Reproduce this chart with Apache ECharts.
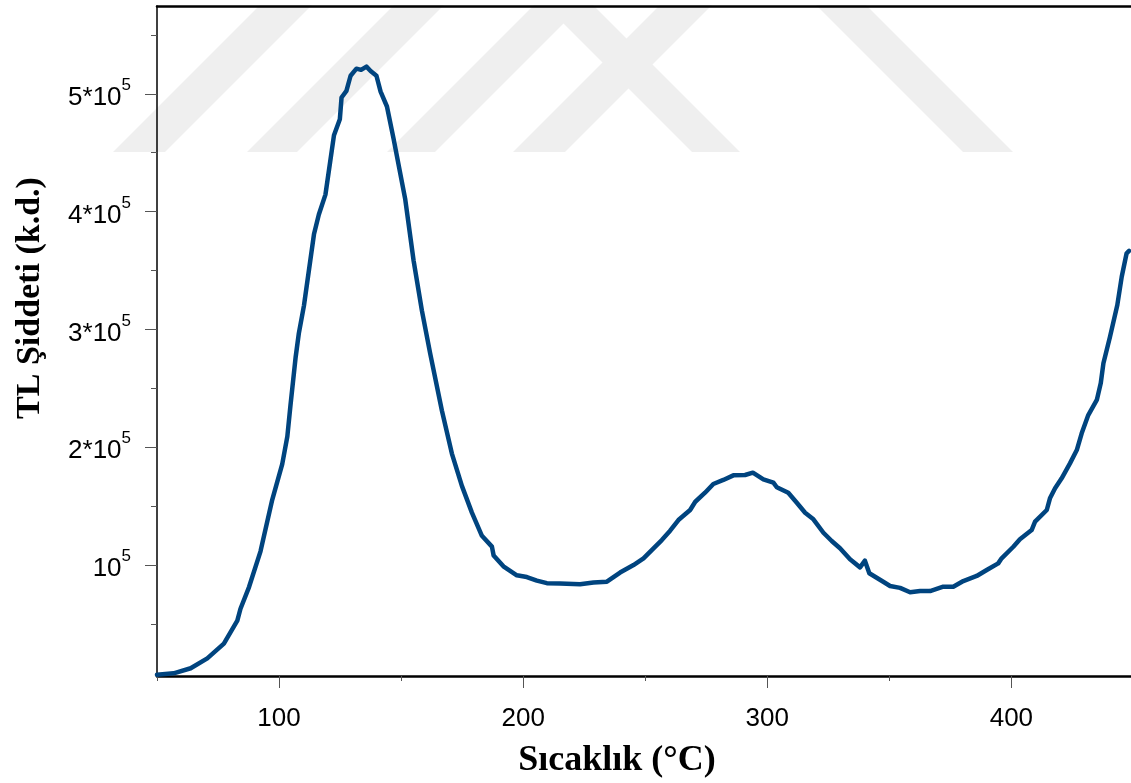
<!DOCTYPE html>
<html><head><meta charset="utf-8">
<script src="https://cdn.jsdelivr.net/npm/echarts@6/dist/echarts.min.js"></script>
<style>html,body{margin:0;padding:0;background:#fff}#c{width:1131px;height:783px}</style>
</head><body><div id="c"></div>
<script>
// ---- data ----
const temperature = [50,56.8,63.8,70.6,77.4,82.9,84.2,87.7,92.4,97.2,101.3,103.4,104.7,106.8,108.1,110.2,114.3,116.3,119.0,122.5,124.9,125.6,127.6,129.3,131.7,133.6,135.8,137.5,139.9,141.6,144.2,146.9,151.7,155.1,158.5,161.9,166.7,170.8,174.9,179.0,183.1,187.2,187.9,191.9,197.4,201.5,205.6,209.7,215.1,223.3,228.8,234.3,237.0,239.7,245.2,249.3,253.4,256.8,260.2,263.6,268.4,270.5,274.5,277.9,282.0,286.1,290.9,294.1,298.4,302.5,303.9,308.6,312.1,315.5,318.9,323.0,326.4,329.8,333.9,338.0,340.0,341.8,347.5,350.3,354.4,358.5,362.6,366.7,372.1,376.2,380.3,385.8,389.9,394.6,396.0,400.8,403.5,408.3,409.7,414.5,415.8,417.9,420.6,424.0,426.8,428.8,431.5,435.0,436.6,437.7,440.4,443.4,445.2,447.2,448.2];
const intensity = [6800,8060,12400,20800,33300,52800,62900,81300,111600,155300,185700,209200,236100,276500,296600,320200,380700,397500,414400,464800,478300,496800,502500,515300,521300,520300,523000,519300,515300,501800,489200,461900,410300,358600,316100,279600,231100,194600,167200,144500,124800,115600,108100,98900,91300,89800,86800,84600,84400,83700,85200,85900,89800,93600,100000,105700,114200,121200,129100,138200,146700,153700,161400,168800,172200,176100,176400,178400,172700,169900,166000,161400,152900,144400,138800,127400,120400,114200,104800,98000,103700,93000,85800,82200,80600,76900,77900,77900,81600,81600,86400,90700,95800,101400,105700,115500,121800,129700,136800,146700,156600,165100,173600,186300,197600,211800,227300,240100,254200,271200,293800,320700,344700,364600,366600];
const xLabelTicks = [100, 200, 300, 400];
const xMinorTicks = [50, 150, 250, 350];
const yLabelTicks = [100000, 200000, 300000, 400000, 500000];
const yMinorTicks = [50000, 150000, 250000, 350000, 450000, 550000];
const xTitle = 'Sıcaklık (°C)';
const yTitle = 'TL Şiddeti (k.d.)';

const points = temperature.map((t, i) => [t, intensity[i]]);
const X_MIN = 50, X_MAX = 449, Y_MIN = 5800, Y_MAX = 574500;
const tickColor = '#555';

function wm(bx0, bx1, dir) { // 45deg watermark band
  const h = 152;
  const s = dir * h;
  return [[bx0, 152], [bx1, 152], [bx1 + s, 0], [bx0 + s, 0]];
}
const wmStyle = {fill: '#efefef'};

const chart = echarts.init(document.getElementById('c'), null, {renderer: 'canvas'});
chart.setOption({
  animation: false,
  backgroundColor: '#fff',
  grid: {left: 157, right: 0, top: 6, bottom: 107, containLabel: false},
  xAxis: [
    {type: 'value', min: X_MIN, max: X_MAX, position: 'bottom',
     axisLine: {show: true, lineStyle: {color: '#000', width: 2.5}},
     axisTick: {show: true, customValues: xLabelTicks, length: 12, lineStyle: {color: tickColor, width: 1}},
     axisLabel: {show: true, customValues: xLabelTicks, margin: 30, fontSize: 26, fontFamily: 'Liberation Sans', color: '#000'},
     splitLine: {show: false}},
    {type: 'value', min: X_MIN, max: X_MAX, position: 'bottom',
     axisLine: {show: false},
     axisTick: {show: true, customValues: xMinorTicks, length: 5, lineStyle: {color: tickColor, width: 1}},
     axisLabel: {show: false}, splitLine: {show: false}},
    {type: 'value', min: X_MIN, max: X_MAX, position: 'top',
     axisLine: {show: true, lineStyle: {color: '#000', width: 2.5}},
     axisTick: {show: false}, axisLabel: {show: false}, splitLine: {show: false}}
  ],
  yAxis: [
    {type: 'value', min: Y_MIN, max: Y_MAX, position: 'left',
     axisLine: {show: true, lineStyle: {color: '#000', width: 1.5}},
     axisTick: {show: true, customValues: yLabelTicks, length: 12, lineStyle: {color: tickColor, width: 1}},
     axisLabel: {show: true, customValues: yLabelTicks, margin: 26,
       formatter: function (v) {
         const n = Math.round(v / 100000);
         return n === 1 ? '{b|10}{s|5}' : '{b|' + n + '*10}{s|5}';
       },
       rich: {
         b: {fontSize: 26, fontFamily: 'Liberation Sans', color: '#000', lineHeight: 34, verticalAlign: 'bottom'},
         s: {fontSize: 17, fontFamily: 'Liberation Sans', color: '#000', verticalAlign: 'top', lineHeight: 17}
       }},
     splitLine: {show: false}},
    {type: 'value', min: Y_MIN, max: Y_MAX, position: 'left',
     axisLine: {show: false},
     axisTick: {show: true, customValues: yMinorTicks, length: 6, lineStyle: {color: tickColor, width: 1}},
     axisLabel: {show: false}, splitLine: {show: false}}
  ],
  graphic: [
    {type: 'polygon', z: -10, silent: true, shape: {points: wm(113, 165, 1)}, style: wmStyle},
    {type: 'polygon', z: -10, silent: true, shape: {points: wm(247, 297, 1)}, style: wmStyle},
    {type: 'polygon', z: -10, silent: true, shape: {points: wm(387, 435, 1)}, style: wmStyle},
    {type: 'polygon', z: -10, silent: true, shape: {points: wm(513, 565, 1)}, style: wmStyle},
    {type: 'polygon', z: -10, silent: true, shape: {points: wm(692, 740, -1)}, style: wmStyle},
    {type: 'polygon', z: -10, silent: true, shape: {points: wm(963, 1013, -1)}, style: wmStyle},
    {type: 'rect', z: -9, silent: true, shape: {x: 0, y: 0, width: 1131, height: 5}, style: {fill: '#fff'}},
    {type: 'text', z: 10, x: 617, y: 761, silent: true,
     style: {text: xTitle, font: 'bold 36px "Liberation Serif"', fill: '#000', textAlign: 'center', textVerticalAlign: 'middle', align: 'center', verticalAlign: 'middle'}},
    {type: 'text', z: 10, x: 30, y: 298, rotation: Math.PI / 2, silent: true,
     style: {text: yTitle, font: 'bold 34px "Liberation Serif"', fill: '#000', textAlign: 'center', textVerticalAlign: 'middle', align: 'center', verticalAlign: 'middle'}}
  ],
  series: [{
    type: 'line', xAxisIndex: 0, yAxisIndex: 0, data: points,
    showSymbol: false, smooth: false, clip: true,
    lineStyle: {color: '#00447f', width: 4.5, join: 'round', cap: 'round'}
  }]
});
</script></body></html>
